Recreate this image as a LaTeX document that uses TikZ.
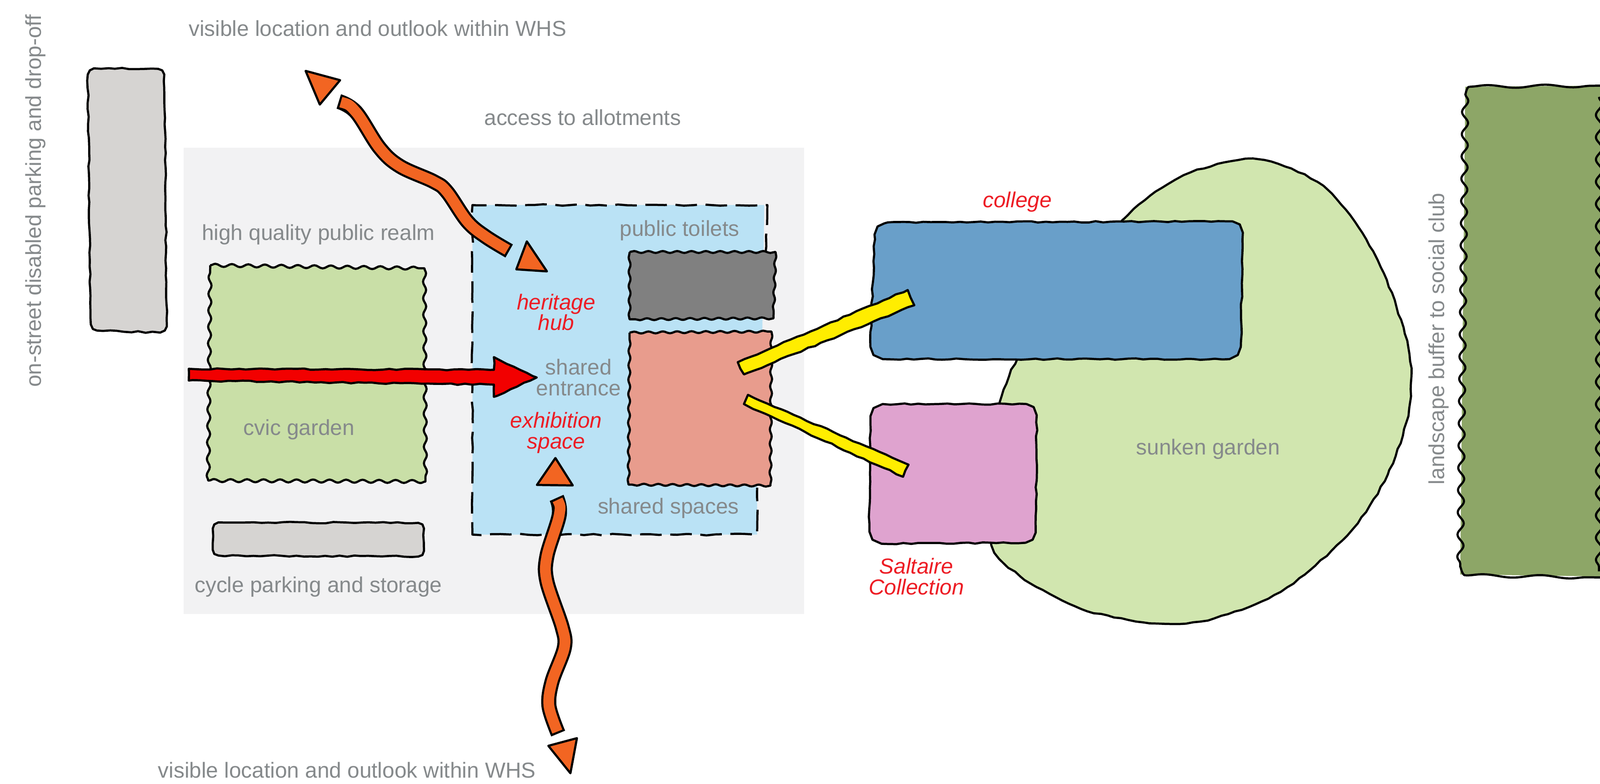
\documentclass[tikz,border=0pt]{standalone}
\usepackage{fontspec}
\setmainfont{Liberation Sans}
\usepackage{xcolor}
\usetikzlibrary{decorations.pathmorphing}
\definecolor{panelgray}{HTML}{F2F2F3}
\definecolor{stonegray}{HTML}{D6D4D2}
\definecolor{civicgreen}{HTML}{C9DFA7}
\definecolor{sunkengreen}{HTML}{D1E6AF}
\definecolor{bufferGreen}{HTML}{8DA667}
\definecolor{hubblue}{HTML}{BAE2F5}
\definecolor{collegeblue}{HTML}{699FC9}
\definecolor{saltairepink}{HTML}{DFA3CF}
\definecolor{salmon}{HTML}{E89C8D}
\definecolor{toiletgray}{HTML}{808080}
\definecolor{routeorange}{HTML}{F26522}
\definecolor{linkyellow}{HTML}{FFED00}
\definecolor{labelgray}{HTML}{85898B}
\definecolor{labelred}{HTML}{ED1C24}
\begin{document}
\begin{tikzpicture}[x=.01cm,y=-.01cm]
    \tikzset{font={\fontsize{6.05pt}{5.8pt}\selectfont}}
    \tikzset{
      sketchline/.style={line width=.6pt,line join=round,draw=black},
      wobble/.style={sketchline,decorate,decoration={random steps,segment length=2pt,amplitude=.2pt}},
      ripple/.style={sketchline,decoration={snake,segment length=4.6pt,amplitude=.42pt}},
      softripple/.style={sketchline,decoration={snake,segment length=4pt,amplitude=.26pt}},
      bigripple/.style={sketchline,decorate,decoration={snake,segment length=6.2pt,amplitude=.85pt}},
      slowripple/.style={sketchline,decorate,decoration={snake,segment length=16pt,amplitude=.4pt}},
      route/.style={sketchline,fill=routeorange},
      routebody/.style={draw=routeorange,line width=3pt,shorten >=.6pt,shorten <=.6pt,
        preaction={draw=black,line width=4.2pt,shorten >=0pt,shorten <=0pt}},
      greylabel/.style={text=labelgray,inner sep=0pt},
      redlabel/.style={text=labelred,font={\fontsize{6.05pt}{5.8pt}\selectfont\itshape},align=center,inner sep=0pt}
    }
    \useasboundingbox (0,0) rectangle (1568,768);
    % background panel and hub
    \fill[panelgray] (180,145) rectangle (788,602);
    \fill[hubblue] (463,201)--(749,201)--(747,330)--(742,478)--(742,524)--(463,524)--cycle;
    \draw[sketchline,decorate,decoration={random steps,segment length=2.6pt,amplitude=.22pt},dash pattern=on 6pt off 2.4pt]
      (750,250)--(752,201)--(463,201)--(463,524)--(742,524)--(742,478);
    % parking, garden, storage
    \draw[wobble,fill=stonegray] (86,73)--(88,69)--(92,67)--(155,67.5)--(159,69)--(161,73)
      --(163.5,320)--(161.5,324)--(157,326)--(95,324)--(91,322.5)--(89,318)--cycle;
    \draw[ripple,fill=civicgreen] (206,260) decorate{--(416,263)} decorate{--(417,472)} decorate{--(204,471)} decorate{--(206,260)};
    \draw[wobble,fill=stonegray] (208.5,518)--(210,514)--(214,512)--(410,512.5)--(414,514)--(415.5,518)
      --(415.5,540)--(414,544)--(410,545.5)--(214,544.5)--(210,543)--(208.5,539)--cycle;
    % sunken garden
    \draw[wobble,fill=sunkengreen] plot[smooth cycle] coordinates {(1050,300) (1101,215) (1160,172) (1232,156) (1300,185) (1350,255)
      (1380,340) (1381,400) (1360,465) (1320,525) (1255,580) (1190,606) (1134,611) (1060,597) (1000,565) (971,530) (972,430) (997,352)};
    % college and Saltaire Collection
    \draw[wobble,fill=collegeblue] (857,230)--(860,222)--(870,218)--(1208,217)--(1215,220)--(1218,228)
      --(1216,340)--(1213,348)--(1205,352)--(865,352)--(856,348)--(853,340)--cycle;
    \draw[wobble,fill=saltairepink] (853,408)--(856,400)--(865,396)--(1006,396)--(1013,399)--(1016,407)
      --(1015,522)--(1012,529)--(1005,532)--(864,533)--(855,529)--(852,521)--cycle;
    % toilets and shared space block
    \draw[softripple,fill=toiletgray] (617,247) decorate{--(760,247)} decorate{--(758,312)} decorate{--(617,313)} decorate{--(617,247)};
    \draw[softripple,fill=salmon] (617,326) decorate{--(756,325)} decorate{--(755,476)} decorate{--(616,475)} decorate{--(617,326)};
    % landscape buffer
    \fill[bufferGreen] (1436,85)--(1568,84)--(1568,565)--(1431,563)--cycle;
    \draw[bigripple] (1436,92)--(1431,556);
    \draw[slowripple] (1440,85)--(1568,84);
    \draw[slowripple] (1436,564)--(1568,566);
    \draw[bigripple] (1567,95)--(1567,560);
    \draw[sketchline] (1436,92) to[out=-90,in=180] (1440,85);
    \draw[sketchline] (1431,556) to[out=90,in=180] (1436,564);
    % yellow links
    \draw[wobble,fill=linkyellow] (723,355)--(889.7,284.2)--(896,299.2)--(729,367)--cycle;
    \draw[wobble,fill=linkyellow] (733,387)--(890.4,455.5)--(885,467.3)--(729,396)--cycle;
    % red arrow
    \draw[wobble,fill=red!95!black] (185,361.5)--(484,362.5)--(484,350)--(526,370)--(484,389)--(484,377)--(185,373)--cycle;
    % orange routes
    \draw[route] (299.5,69.5)--(333.3,78.6)--(313.4,102.5)--cycle;
    \draw[routebody] plot[smooth,tension=.6] coordinates {(332,99.5) (349,110) (372,145) (392,163) (425,178) (438,188) (458,217) (476,232) (499,246)};
    \draw[route] (516.3,236.6)--(536,266)--(506,264)--cycle;
    \draw[route] (544.3,448.9)--(561.3,475.8)--(526.2,475.3)--cycle;
    \draw[routebody] plot[smooth,tension=.55] coordinates {(545.5,488) (548,505) (536,545) (536,570) (551,615) (553,635) (541,668) (538,692) (547,719)};
    \draw[route] (537.4,731)--(565.4,723.5)--(559,757.9)--cycle;
    % labels
    \node[greylabel,rotate=90] (parkinglbl) at (35,197) {on-street disabled parking and drop-off};
    \node[greylabel] (outlooktop) at (370,28) {visible location and outlook within WHS};
    \node[greylabel] (allotmentslbl) at (571,115) {access to allotments};
    \node[greylabel] (realmlbl) at (312,230) {high quality public realm};
    \node[greylabel] (toiletslbl) at (666,226) {public toilets};
    \node[greylabel,align=center] (entrancelbl) at (567,370) {shared\\entrance};
    \node[greylabel] (civiclbl) at (293,421) {cvic garden};
    \node[greylabel] (spaceslbl) at (655,498) {shared spaces};
    \node[greylabel] (cyclelbl) at (312,575) {cycle parking and storage};
    \node[greylabel] (sunkenlbl) at (1184,440) {sunken garden};
    \node[greylabel,rotate=90] (bufferlbl) at (1410,332) {landscape buffer to social club};
    \node[greylabel] (outlookbot) at (340,755) {visible location and outlook within WHS};
    \node[redlabel] (hublbl) at (545,306) {heritage\\hub};
    \node[redlabel] (exhibitionlbl) at (545,424) {exhibition\\space};
    \node[redlabel] (collegelbl) at (997,198) {college};
    \node[redlabel] (saltairelbl) at (898,565) {Saltaire\\Collection};
\end{tikzpicture}
\end{document}
